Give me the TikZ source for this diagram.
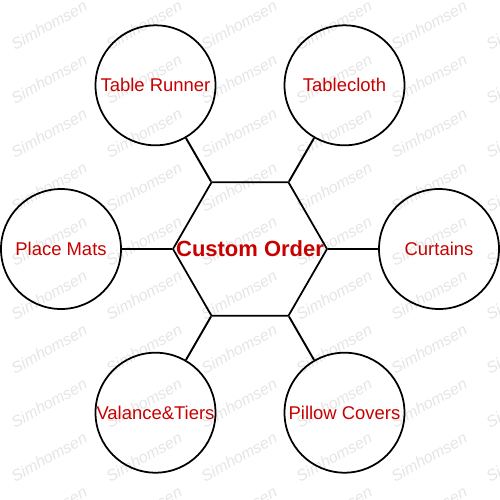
\documentclass[tikz,border=0pt]{standalone}
\usepackage{fontspec}
\setmainfont{Liberation Sans}
\usetikzlibrary{shapes.geometric}
\definecolor{ordred}{RGB}{200,0,0}

\begin{document}
\begin{tikzpicture}[
  item/.style={draw, circle, line width=1pt, minimum size=2.4cm, inner sep=0pt, text=ordred, font=\fontsize{10.5}{12}\selectfont},
  hexa/.style={draw, regular polygon, regular polygon sides=6, line width=1pt, minimum size=3.08cm, inner sep=0pt},
  link/.style={line width=1.1pt},
  stamp/.style={text=black!10, rotate=29, font=\itshape\fontsize{9}{10}\selectfont},
]
  \clip (-5,-5) rectangle (5,4.98);
  \foreach \i in {0,...,5}
    \foreach \j in {0,...,9}
      \node[stamp] (wm-\i-\j) at (-4.02+1.9*\i, 4.48-1.08*\j) {Simhomsen};
  \node[hexa] (hex) at (0,0) {};
  \node[text=ordred, font=\bfseries\fontsize{12.5}{14}\selectfont] (order) at (hex) {Custom Order};
  \node[item] (cur) at (0:3.78) {Curtains};
  \node[item] (cloth) at (60:3.78) {Tablecloth};
  \node[item] (runner) at (120:3.78) {Table Runner};
  \node[item] (mats) at (180:3.78) {Place Mats};
  \node[item] (valance) at (240:3.78) {Valance\&Tiers};
  \node[item] (pillow) at (300:3.78) {Pillow Covers};
  \draw[link] (hex) -- (cur);
  \draw[link] (hex) -- (cloth);
  \draw[link] (hex) -- (runner);
  \draw[link] (hex) -- (mats);
  \draw[link] (hex) -- (valance);
  \draw[link] (hex) -- (pillow);
\end{tikzpicture}
\end{document}
